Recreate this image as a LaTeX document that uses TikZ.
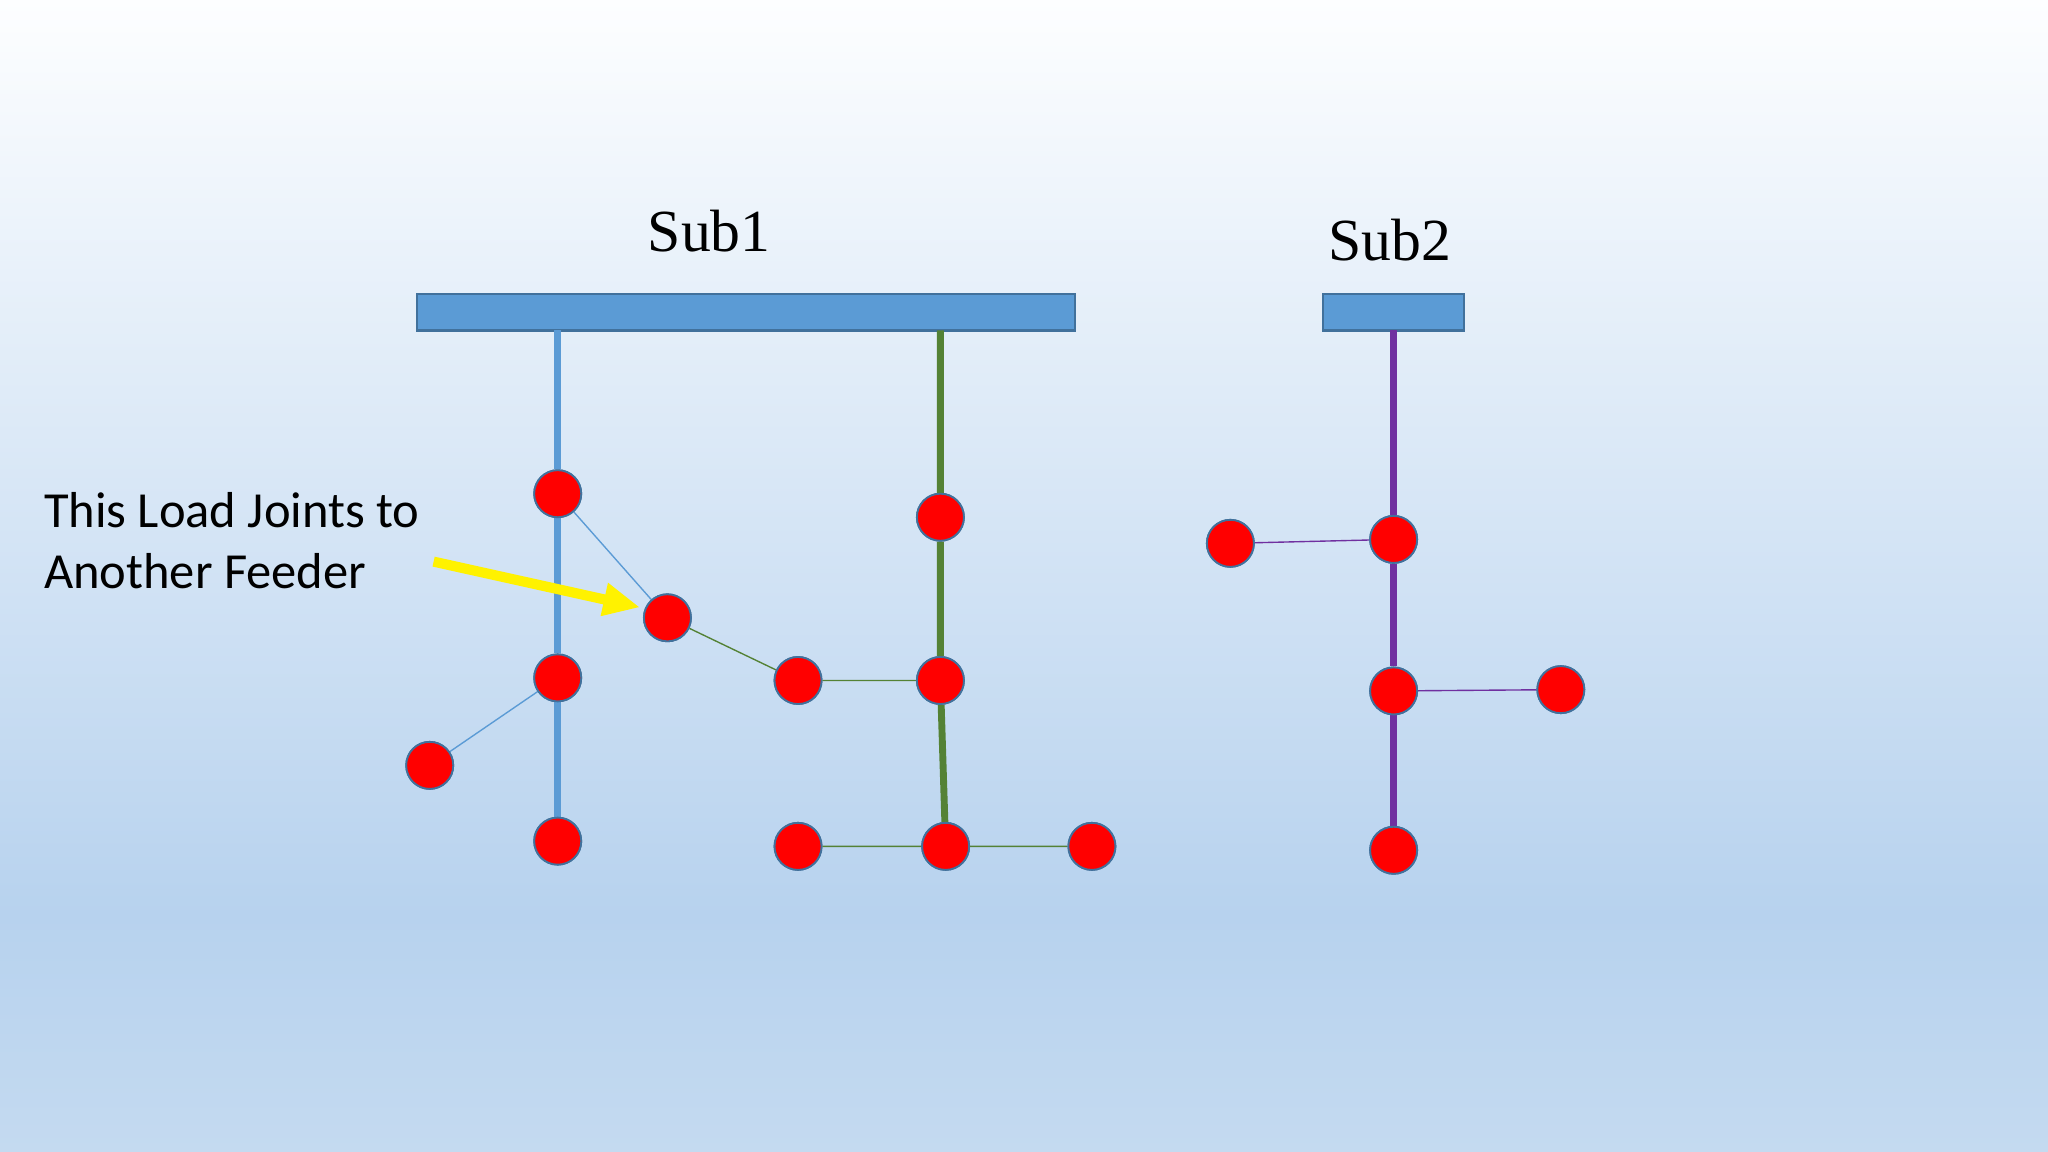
\documentclass[tikz,border=0pt]{standalone}
\usepackage{fontspec}
\setmainfont{Liberation Serif}
\newfontfamily\calib{Carlito}
\usetikzlibrary{arrows.meta}
\definecolor{bus}{HTML}{5B9BD5}
\definecolor{busb}{HTML}{41719C}
\definecolor{fblue}{HTML}{5B9BD5}
\definecolor{fgreen}{HTML}{548235}
\definecolor{fpurple}{HTML}{7030A0}
\definecolor{bgtop}{HTML}{FDFEFF}
\definecolor{bgmid}{HTML}{B7D2EE}
\definecolor{bgbot}{HTML}{C4DAF0}
\begin{document}
\begin{tikzpicture}[x=0.01cm,y=-0.01cm,
  load/.style={circle,fill=red,draw=busb,line width=0.4pt,minimum size=0.36cm,inner sep=0pt},
  busbar/.style={fill=bus,draw=busb,line width=0.5pt},
  thick feeder/.style={line width=1.5pt},
  thin feeder/.style={line width=0.3pt}]
\useasboundingbox (0,0) rectangle (1568,882);
\shade[top color=bgtop,bottom color=bgmid] (0,0) rectangle (1568,701);
\shade[top color=bgmid,bottom color=bgbot] (0,700) rectangle (1568,882);
% bars
\draw[busbar] (319,225) rectangle (823,253);
\draw[busbar] (1013,225) rectangle (1121,253);
\node (s1) at (543,177) {\fontsize{13}{15}\selectfont Sub1};
\node (s2) at (1064,184) {\fontsize{13}{15}\selectfont Sub2};
\coordinate (b1) at (427,253);
\coordinate (b2) at (720,253);
\coordinate (b3) at (1067,253);
% nodes
\node[load] (a1) at (427,378) {};
\node[load] (a2) at (427,519) {};
\node[load] (a3) at (427,644) {};
\node[load] (a4) at (329,586) {};
\node[load] (j) at (511,473) {};
\node[load] (g1) at (720,396) {};
\node[load] (g2) at (720,521) {};
\node[load] (g3) at (611,521) {};
\node[load] (g4) at (724,648) {};
\node[load] (g5) at (611,648) {};
\node[load] (g6) at (836,648) {};
\node[load] (p1) at (1067,413) {};
\node[load] (p2) at (942,416) {};
\node[load] (p3) at (1067,529) {};
\node[load] (p4) at (1195,528) {};
\node[load] (p5) at (1067,651) {};
% lines
\draw[fblue,thick feeder] (b1) -- (a1) (a1) -- (a2) (a2) -- (a3);
\draw[fblue,thin feeder] (a2) -- (a4) (a1) -- (j);
\draw[fgreen,thin feeder] (j) -- (g3) (g3) -- (g2) (g5) -- (g4) (g4) -- (g6);
\draw[fgreen,thick feeder] (b2) -- (g1) (g1) -- (g2) (g2) -- (g4);
\draw[fpurple,thick feeder] (b3) -- (p1) (p1) -- (p3) (p3) -- (p5);
\draw[fpurple,thin feeder] (p1) -- (p2) (p3) -- (p4);
\foreach \n in {a1,a2,a3,a4,j,g1,g2,g3,g4,g5,g6,p1,p2,p3,p4,p5}
  \node[load] at (\n) {};
% annotation
\node[anchor=west,align=left,inner sep=0pt,font=\calib\fontsize{11}{13.3}\selectfont] (t) at (33,414) {This Load Joints to\\Another Feeder};
\coordinate (ya) at (332,430);
\coordinate (yb) at (490,465);
\draw[yellow,line width=2.2pt,-{Triangle[length=0.28cm,width=0.24cm]}] (ya) -- (yb);
\end{tikzpicture}
\end{document}
